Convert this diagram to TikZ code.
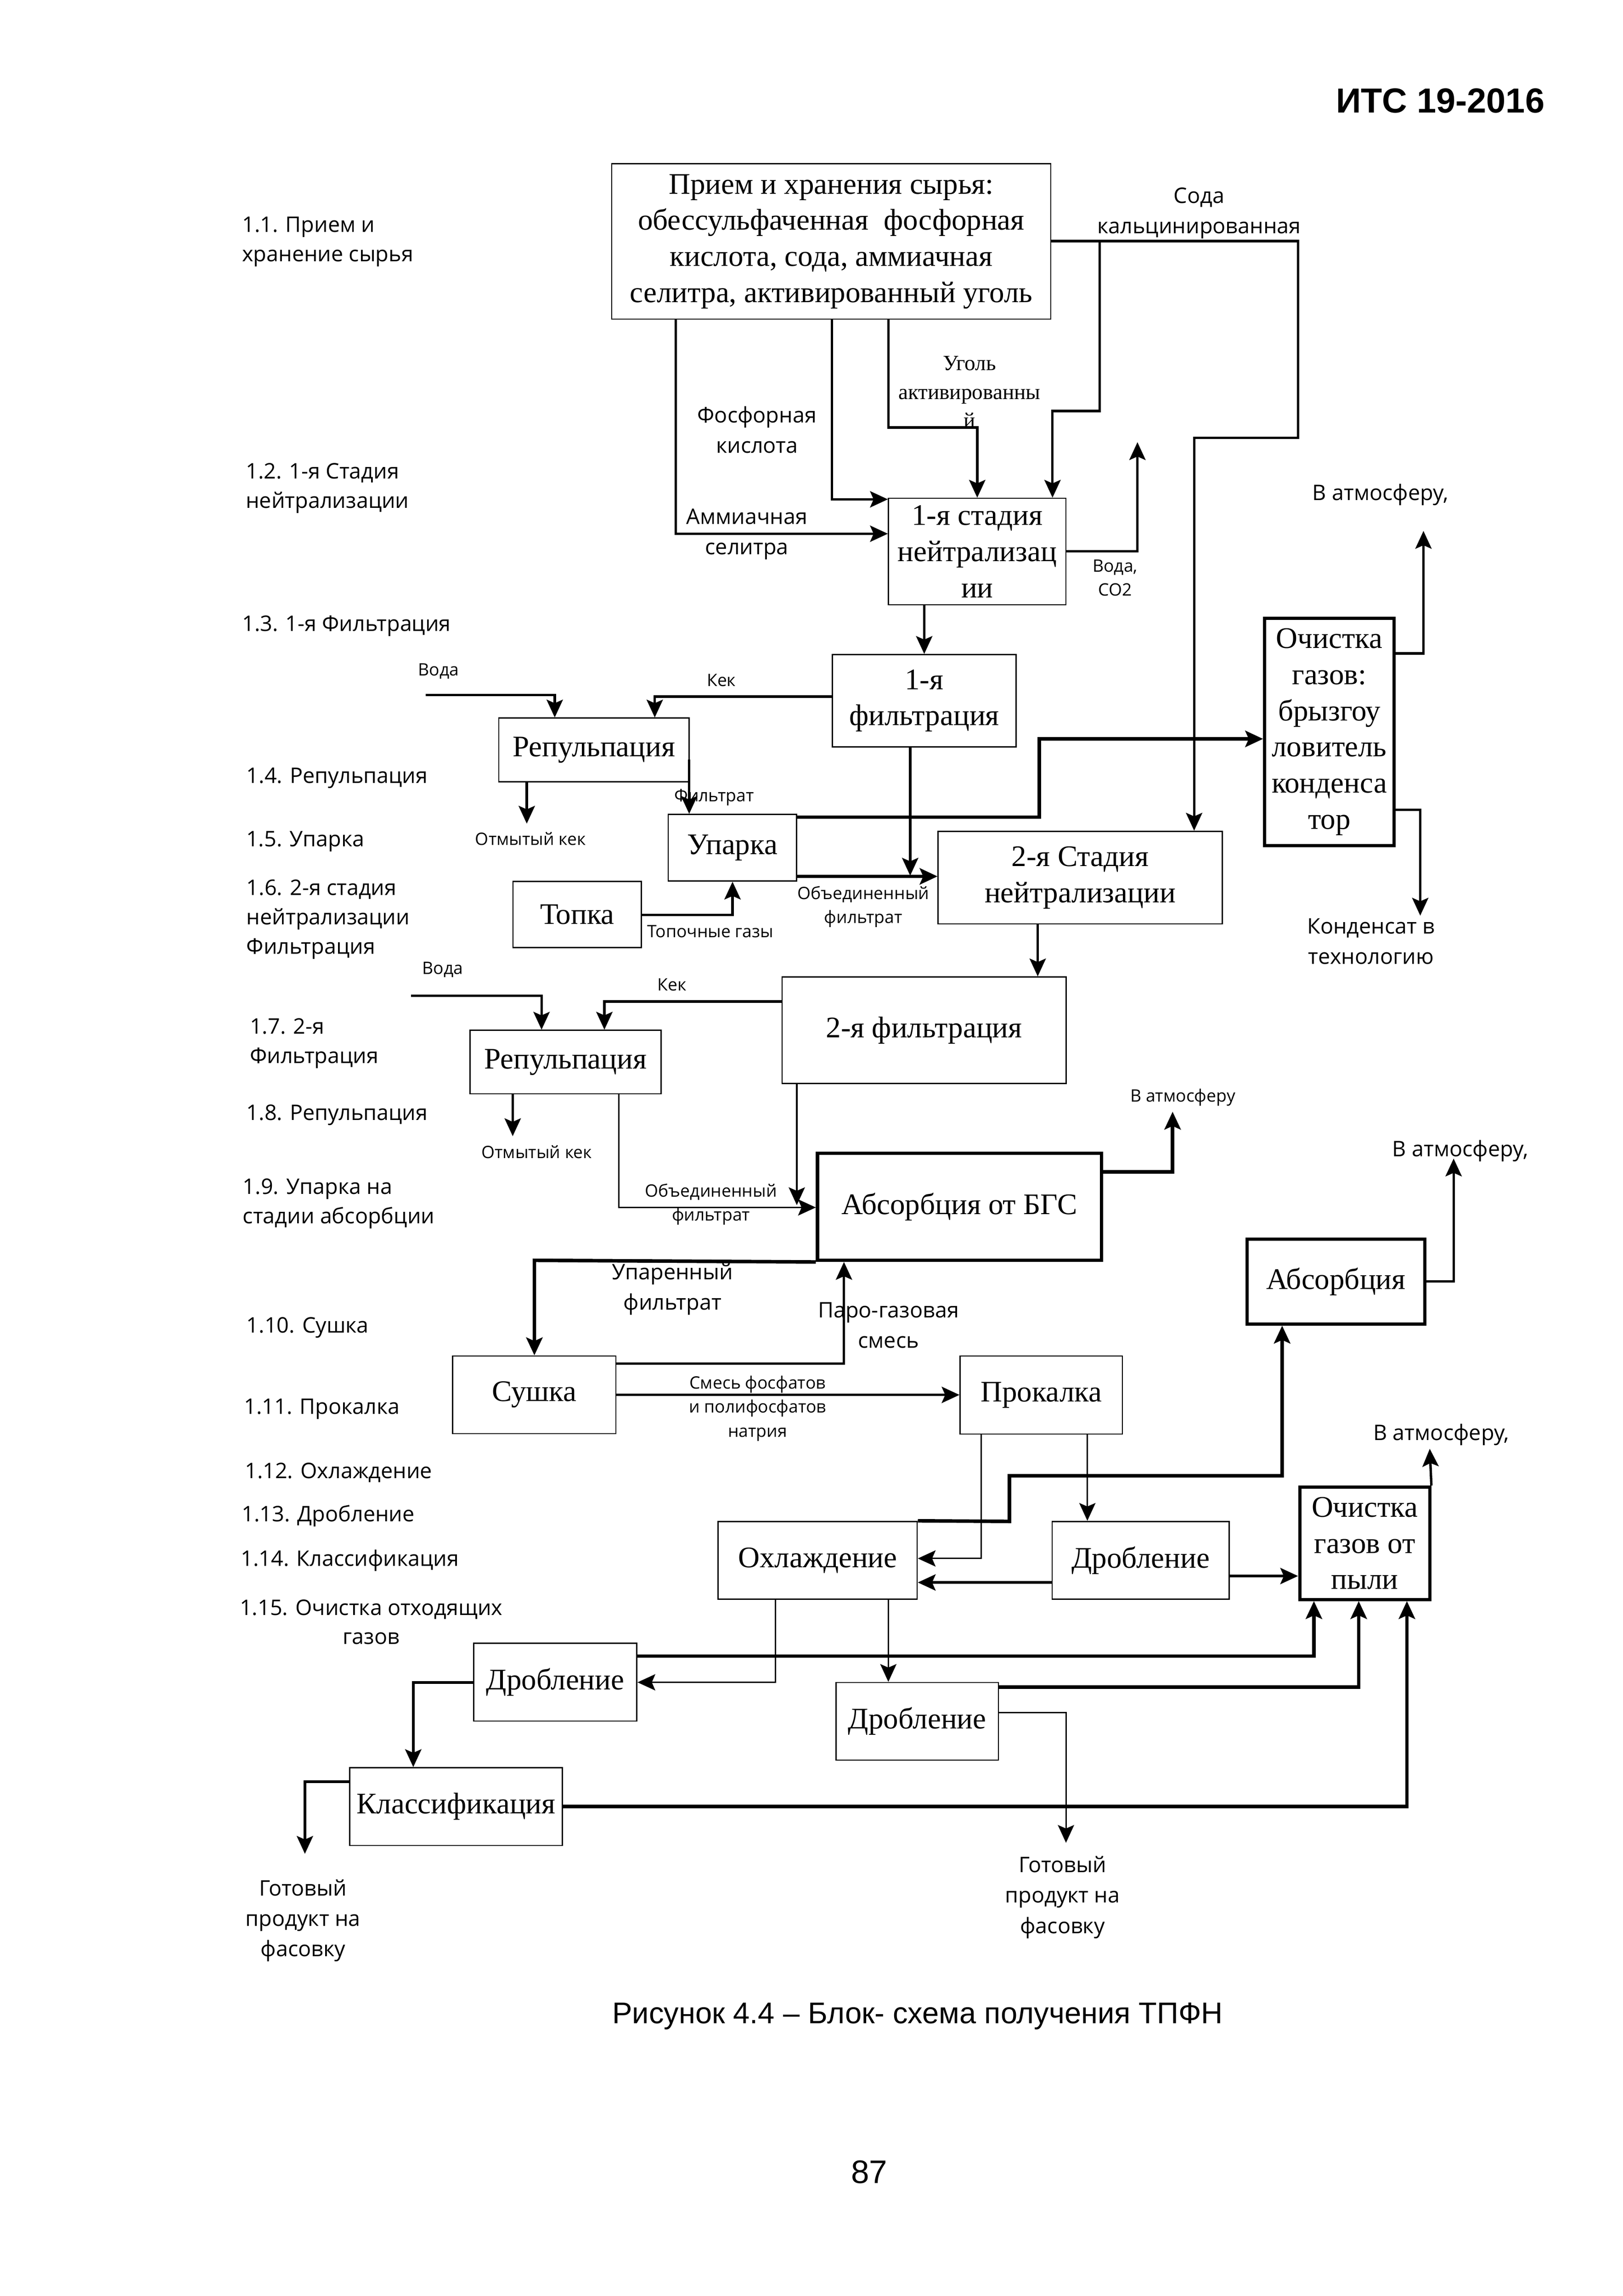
\documentclass[tikz,border=0pt]{standalone}
\usepackage{fontspec}
\setmainfont{Liberation Serif}
\newfontfamily\osans{Open Sans}
\newfontfamily\arialf{Liberation Sans}
\usetikzlibrary{arrows.meta,fit}
\newcommand\bxf{\fontsize{11}{13.3}\selectfont}
\newcommand\labM{\osans\fontsize{7.9}{11.2}\selectfont}
\newcommand\labS{\osans\fontsize{6.3}{8.8}\selectfont}
\newcommand\labL{\osans\fontsize{7.9}{10.8}\selectfont}
\newcommand\labT{\fontsize{8}{10.6}\selectfont}
\begin{document}
\begin{tikzpicture}[x=0.18953mm,y=-0.18953mm,
  >={Stealth[length=2.3mm,width=2.1mm,inset=0.45mm]},
  box/.style={draw,line width=0.45pt,inner sep=0pt},
  tbox/.style={box,line width=1.2pt},
  bt/.style={font=\bxf,align=center,inner sep=0pt},
  cn/.style={line width=0.9pt,->},
  cs/.style={line width=0.55pt,->},
  ck/.style={line width=1.3pt,->},
  lm/.style={font=\labM,align=center,inner sep=0pt},
  ls/.style={font=\labS,align=center,inner sep=0pt},
  ll/.style={font=\labL,align=left,inner sep=0pt,anchor=west},
  lt/.style={font=\labT,align=center,inner sep=0pt}]
\fill[white] (0,0) rectangle (1108,1568);
\path[use as bounding box] (0,0) rectangle (1108,1568);

% header, caption, page number
\node[font=\arialf\bfseries\fontsize{12.8}{15}\selectfont,anchor=base,inner sep=0pt] (hdr) at (983.5,77) {ИТС 19-2016};
\node[font=\arialf\fontsize{11}{13}\selectfont,anchor=base,inner sep=0pt] (cap) at (626.6,1381.8) {Рисунок 4.4 – Блок- схема получения ТПФН};
\node[font=\arialf\fontsize{12}{14}\selectfont,anchor=base,inner sep=0pt] (pg) at (593.5,1491) {87};

% left column labels
\node[ll] (L1) at (165,165.2) {1.1. Прием и\\хранение сырья};
\node[ll] (L2) at (167.5,333.5) {1.2. 1-я Стадия\\нейтрализации};
\node[ll] (L3) at (165,427.6) {1.3. 1-я Фильтрация};
\node[ll] (L4) at (168,531.3) {1.4. Репульпация};
\node[ll] (L5) at (167.8,574.6) {1.5. Упарка};
\node[ll] (L6) at (168,627.8) {1.6. 2-я стадия\\нейтрализации\\Фильтрация};
\node[ll] (L7) at (170.3,712.6) {1.7. 2-я\\Фильтрация};
\node[ll] (L8) at (168,761.6) {1.8. Репульпация};
\node[ll] (L9) at (165.5,822) {1.9. Упарка на\\стадии абсорбции};
\node[ll] (L10) at (168,906.6) {1.10. Сушка};
\node[ll] (L11) at (166.3,962.3) {1.11. Прокалка};
\node[ll] (L12) at (166.9,1005.6) {1.12. Охлаждение};
\node[ll] (L13) at (164.8,1035.3) {1.13. Дробление};
\node[ll] (L14) at (164.2,1065.8) {1.14. Классификация};
\node[ll,align=center] (L15) at (163.4,1107.7) {1.15. Очистка отходящих\\газов};

% boxes
\node[box,fit={(417.7,111.9) (717.5,217.9)}] (raw) {};
\node[bt] (rawT) at (raw.center) {Прием и хранения сырья:\\обессульфаченная\ \ фосфорная\\кислота, сода, аммиачная\\селитра, активированный уголь};
\node[box,fit={(606.7,340.3) (727.9,413)}] (n1) {};
\node[bt] (n1T) at (n1.center) {1-я стадия\\нейтрализац\\ии};
\node[box,fit={(568.3,447) (693.9,510)}] (f1) {};
\node[bt] (f1T) at (f1.center) {1-я\\фильтрация};
\node[box,fit={(340.6,490.4) (470.6,534)}] (rep1) {};
\node[bt] (rep1T) at (rep1.center) {Репульпация};
\node[box,fit={(456.3,556.2) (544,601.7)}] (upar) {};
\node[bt] (uparT) at (upar.center) {Упарка};
\node[box,fit={(350.3,601.9) (438,647.2)}] (topka) {};
\node[bt] (topkaT) at (topka.center) {Топка};
\node[box,fit={(640.6,567.7) (834.6,631)}] (n2) {};
\node[bt] (n2T) at (n2.center) {2-я Стадия\\нейтрализации};
\node[tbox,fit={(863.6,422.3) (951.8,577.4)}] (gas1) {};
\node[bt] (gas1T) at (gas1.center) {Очистка\\газов:\\брызгоу\\ловитель\\конденса\\тор};
\node[box,fit={(534,667.2) (728,740)}] (f2) {};
\node[bt] (f2T) at (f2.center) {2-я фильтрация};
\node[box,fit={(320.9,703.6) (451.4,747)}] (rep2) {};
\node[bt] (rep2T) at (rep2.center) {Репульпация};
\node[tbox,fit={(558.2,787.6) (752.2,860.7)}] (absbgs) {};
\node[bt] (absbgsT) at (absbgs.center) {Абсорбция от БГС};
\node[tbox,fit={(851.5,846.2) (972.9,904.2)}] (abs) {};
\node[bt] (absT) at (abs.center) {Абсорбция};
\node[box,fit={(309,926) (420.5,979)}] (sush) {};
\node[bt] (sushT) at (sush.center) {Сушка};
\node[box,fit={(655.6,926) (766.4,979.4)}] (prok) {};
\node[bt] (prokT) at (prok.center) {Прокалка};
\node[box,fit={(490.4,1039) (626.3,1092.2)}] (ohl) {};
\node[bt] (ohlT) at (ohl.center) {Охлаждение};
\node[box,fit={(718.4,1039) (839.4,1092.2)}] (drobR) {};
\node[bt] (drobRT) at (drobR.center) {Дробление};
\node[tbox,fit={(887.5,1015.6) (976.3,1092.3)}] (gas2) {};
\node[bt] (gas2T) at (gas2.center) {Очистка\\газов от\\пыли};
\node[box,fit={(323.4,1122.3) (434.9,1175.4)}] (drobL) {};
\node[bt] (drobLT) at (drobL.center) {Дробление};
\node[box,fit={(570.8,1149) (681.8,1202)}] (drobM) {};
\node[bt] (drobMT) at (drobM.center) {Дробление};
\node[box,fit={(238.7,1207.2) (384.1,1260.3)}] (klass) {};
\node[bt] (klassT) at (klass.center) {Классификация};

% coordinates
\coordinate (a1) at (461.5,364.5);
\coordinate (a2) at (568,341);
\coordinate (a3) at (606.7,292);
\coordinate (a3b) at (667.3,292);
\coordinate (s1) at (751,164.6);
\coordinate (s2) at (751,280.7);
\coordinate (s3) at (718.7,280.7);
\coordinate (s4) at (886.3,164.6);
\coordinate (s5) at (886.3,299);
\coordinate (s6) at (815.4,299);
\coordinate (w1) at (776.7,376.4);
\coordinate (w2) at (776.7,302);
\coordinate (v1) at (290.7,474.7);
\coordinate (v2) at (378.8,474.7);
\coordinate (k1) at (447.1,475.7);
\coordinate (o1) at (359.7,562.5);
\coordinate (ft) at (470.6,518.7);
\coordinate (u1) at (544,558);
\coordinate (u2) at (709.6,558);
\coordinate (u3) at (709.6,504.6);
\coordinate (uy) at (600,598.5);
\coordinate (fd) at (621.5,598);
\coordinate (t1) at (500.2,624.8);
\coordinate (nf) at (708.6,650);
\coordinate (g1) at (972,446.3);
\coordinate (g2) at (972,362.6);
\coordinate (g3) at (969.8,553);
\coordinate (g4) at (969.8,625.3);
\coordinate (v3) at (280.6,680.1);
\coordinate (v4) at (369.8,680.1);
\coordinate (k2) at (412.7,684);
\coordinate (o2) at (350.1,775.9);
\coordinate (r1) at (422.5,824.6);
\coordinate (fd2) at (544.1,823);
\coordinate (b1) at (800.7,800.2);
\coordinate (b2) at (800.7,759.2);
\coordinate (p1) at (364.9,860.7);
\coordinate (p2) at (420,931.3);
\coordinate (p3) at (576.3,931.3);
\coordinate (sm) at (500,952.6);
\coordinate (a4) at (992.6,875);
\coordinate (a5) at (992.6,791.2);
\coordinate (h1) at (689.3,1039);
\coordinate (h2) at (689.3,1007.8);
\coordinate (h3) at (875.5,1007.8);
\coordinate (q1) at (670,1064.3);
\coordinate (q2) at (742.5,1000);
\coordinate (q3) at (680,1080.7);
\coordinate (q4) at (860,1076.3);
\coordinate (e1) at (976.3,989.4);
\coordinate (m1) at (529.4,1148.9);
\coordinate (m2) at (606.6,1120);
\coordinate (d1) at (897.2,1131);
\coordinate (d2) at (927.8,1152.2);
\coordinate (d3) at (727.9,1169.5);
\coordinate (d4) at (727.9,1258.5);
\coordinate (d5) at (960.7,1233.6);
\coordinate (d6) at (282.2,1149);
\coordinate (d7) at (208.2,1216.8);
\coordinate (d8) at (208.2,1266);

% connectors
\draw[cn] (raw.south -| a1) -- (a1) -- (n1.west |- a1);
\draw[cn] (raw.south -| a2) -- (a2) -- (n1.west |- a2);
\draw[cn] (raw.south -| a3) -- (a3) -- (a3b) -- (n1.north -| a3b);
\draw[cn] (raw.east |- s1) -- (s1) -- (s2) -- (s3) -- (n1.north -| s3);
\draw[cn] (s1) -- (s4) -- (s5) -- (s6) -- (n2.north -| s6);
\draw[cn] (n1.east |- w1) -- (w1) -- (w2);
\draw[cn] (n1.south -| f1.north) -- (f1.north);
\draw[cn] (v1) -- (v2) -- (rep1.north -| v2);
\draw[cn] (f1.west |- k1) -- (k1) -- (rep1.north -| k1);
\draw[cn] (rep1.south -| o1) -- (o1);
\draw[cn] (ft) -- (upar.north -| ft);
\draw[ck] (upar.east |- u1) -- (u2) -- (u3) -- (gas1.west |- u3);
\draw[ck] (upar.east |- uy) -- (n2.west |- uy);
\draw[cn] (f1.south -| fd) -- (fd);
\draw[cn] (topka.east |- t1) -- (t1) -- (upar.south -| t1);
\draw[cn] (n2.south -| nf) -- (f2.north -| nf);
\draw[cn] (gas1.east |- g1) -- (g1) -- (g2);
\draw[cn] (gas1.east |- g3) -- (g3) -- (g4);
\draw[cn] (v3) -- (v4) -- (rep2.north -| v4);
\draw[cn] (f2.west |- k2) -- (k2) -- (rep2.north -| k2);
\draw[cn] (rep2.south -| o2) -- (o2);
\draw[cs] (rep2.south -| r1) -- (r1) -- (absbgs.west |- r1);
\draw[cs] (f2.south -| fd2) -- (fd2);
\draw[ck] (absbgs.east |- b1) -- (b1) -- (b2);
\draw[ck] (absbgs.south west) -- (p1) -- (sush.north -| p1);
\draw[cn] (sush.east |- p2) -- (p3) -- (absbgs.south -| p3);
\draw[cn] (sush.east |- sm) -- (prok.west |- sm);
\draw[cn] (abs.east |- a4) -- (a4) -- (a5);
\draw[ck] (ohl.north east) -- (h1) -- (h2) -- (h3) -- (abs.south -| h3);
\draw[cs] (prok.south -| q1) -- (q1) -- (ohl.east |- q1);
\draw[cs] (prok.south -| q2) -- (drobR.north -| q2);
\draw[cn] (drobR.west |- q3) -- (ohl.east |- q3);
\draw[cn] (drobR.east |- q4) -- (gas2.west |- q4);
\draw[cn] (gas2.north east) -- (e1);
\draw[cs] (ohl.south -| m1) -- (m1) -- (drobL.east |- m1);
\draw[cs] (ohl.south -| m2) -- (drobM.north -| m2);
\draw[ck] (drobL.east |- d1) -- (d1) -- (gas2.south -| d1);
\draw[ck] (drobM.east |- d2) -- (d2) -- (gas2.south -| d2);
\draw[cs] (drobM.east |- d3) -- (d3) -- (d4);
\draw[ck] (klass.east |- d5) -- (d5) -- (gas2.south -| d5);
\draw[cn] (drobL.west |- d6) -- (d6) -- (klass.north -| d6);
\draw[cn] (klass.west |- d7) -- (d7) -- (d8);

% flow labels
\node[lm] (t01) at (818.8,145.5) {Сода\\кальцинированная};
\node[lm] (t02) at (516.9,293.5) {Фосфорная\\кислота};
\node[lm] (t03) at (510,364.8) {Аммиачная\\селитра};
\node[lt] (t04) at (662,267.7) {Уголь\\активированны\\й};
\node[ls] (t05) at (761.4,394.5) {Вода,\\CO2};
\node[lm] (t06) at (942.6,337.9) {В атмосферу,};
\node[lm] (t07) at (936.2,642.9) {Конденсат в\\технологию};
\node[ls] (t08) at (299.5,458.3) {Вода};
\node[ls] (t09) at (492.6,464.6) {Кек};
\node[ls] (t10) at (362.3,572.8) {Отмытый кек};
\node[ls] (t11) at (487.6,544.5) {Фильтрат};
\node[ls] (t12) at (485.1,636.2) {Топочные газы};
\node[ls] (t13) at (589.5,619.3) {Объединенный\\фильтрат};
\node[ls] (t14) at (302.3,662.3) {Вода};
\node[ls] (t15) at (458.9,672.6) {Кек};
\node[ls] (t16) at (366.5,786.6) {Отмытый кек};
\node[ls] (t17) at (485.5,822.6) {Объединенный\\фильтрат};
\node[ls] (t18) at (807.7,749.5) {В атмосферу};
\node[lm] (t19) at (459.2,880.5) {Упаренный\\фильтрат};
\node[lm] (t20) at (606.7,905.1) {Паро-газовая\\смесь};
\node[ls] (t21) at (517.3,961.9) {Смесь фосфатов\\и полифосфатов\\натрия};
\node[lm] (t22) at (997.2,785.9) {В атмосферу,};
\node[lm] (t23) at (984.2,979.7) {В атмосферу,};
\node[lm] (t24) at (725.5,1295.7) {Готовый\\продукт на\\фасовку};
\node[lm] (t25) at (206.9,1311.6) {Готовый\\продукт на\\фасовку};
\end{tikzpicture}
\end{document}
